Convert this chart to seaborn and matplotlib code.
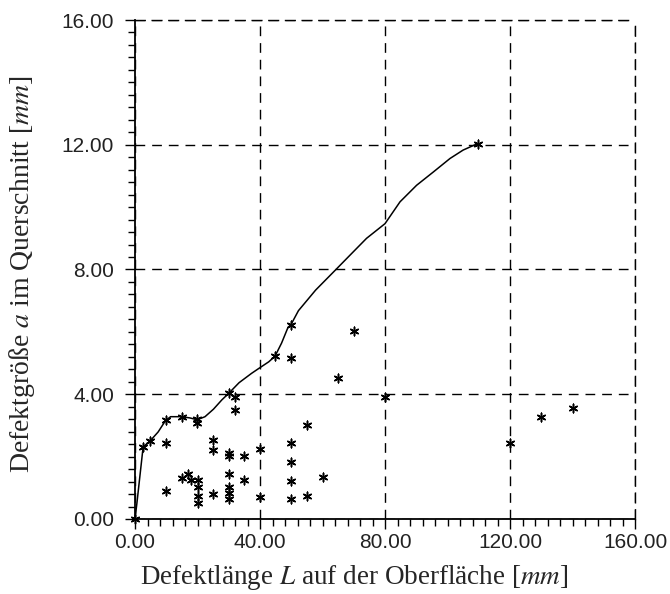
import matplotlib
matplotlib.use("Agg")
import matplotlib.pyplot as plt
import numpy as np
import pandas as pd
import seaborn as sns
from matplotlib.ticker import MultipleLocator, FormatStrFormatter

# envelope curve
curve_L = [0, 0.6, 2.6, 4.9, 7.4, 9.8, 11.4, 14.9, 17.6, 19.9, 22.4, 25.1, 27.8, 30.0,
           33.3, 37.3, 40.1, 42.8, 44.8, 46.9, 48.9, 50.0, 52.3, 57.8, 64.3, 68.8,
           74.1, 80.0, 84.8, 90.1, 95.5, 100.8, 105.0, 109.7]
curve_a = [0, 0.5, 2.31, 2.51, 2.79, 3.16, 3.28, 3.28, 3.24, 3.18, 3.28, 3.52, 3.82, 4.03,
           4.37, 4.67, 4.86, 5.04, 5.22, 5.64, 6.13, 6.25, 6.68, 7.34, 8.0, 8.46,
           9.0, 9.47, 10.17, 10.7, 11.13, 11.56, 11.83, 12.04]

# measured defects
defect_L = [0, 2.6, 4.9, 9.8, 14.9, 19.9, 19.9, 30.0, 44.8, 49.8, 109.7,
            10, 10, 15, 17, 18, 20, 20, 20, 20, 25, 25, 25,
            30, 30, 30, 30, 30, 30, 32, 32, 35, 35, 40, 40,
            50, 50, 50, 50, 50, 55, 55, 60, 65, 70, 80, 120, 130, 140]
defect_a = [0, 2.31, 2.51, 3.16, 3.28, 3.22, 3.09, 4.03, 5.22, 6.22, 12.04,
            2.43, 0.91, 1.32, 1.43, 1.25, 1.25, 1.01, 0.74, 0.5, 2.53, 2.21, 0.79,
            2.13, 2.02, 1.43, 1.04, 0.82, 0.63, 3.9, 3.49, 2.03, 1.25, 2.23, 0.72,
            5.15, 2.43, 1.82, 1.23, 0.63, 3.01, 0.74, 1.36, 4.53, 6.03, 3.92, 2.45, 3.26, 3.55]

x_ticks = [0, 40, 80, 120, 160]
y_ticks = [0, 4, 8, 12, 16]

sns.set_style("white")
plt.rcParams["font.family"] = ["Liberation Sans", "DejaVu Sans"]
plt.rcParams["mathtext.fontset"] = "stix"

curve = pd.DataFrame({"L": curve_L, "a": curve_a})
defects = pd.DataFrame({"L": defect_L, "a": defect_a})

fig = plt.figure(figsize=(6.7, 5.94), dpi=100)
ax = fig.add_axes([0.2015, 0.1263, 0.7463, 0.8400])

sns.lineplot(data=curve, x="L", y="a", sort=False, color="black", linewidth=1.1, ax=ax)
sns.scatterplot(data=defects, x="L", y="a", marker=(6, 2, 0), s=38, color="black",
                edgecolor="black", linewidth=1.1, ax=ax, zorder=3, clip_on=False)

ax.set_xlim(0, 160)
ax.set_ylim(0, 16)
ax.set_xticks(x_ticks)
ax.set_yticks(y_ticks)
ax.xaxis.set_minor_locator(MultipleLocator(4))
ax.yaxis.set_minor_locator(MultipleLocator(0.4))
ax.xaxis.set_major_formatter(FormatStrFormatter("%.2f"))
ax.yaxis.set_major_formatter(FormatStrFormatter("%.2f"))
ax.tick_params(which="major", direction="out", length=7, width=1, labelsize=15,
               color="black", labelcolor="#222222", bottom=True, left=True)
ax.tick_params(axis="x", which="major", pad=3)
ax.tick_params(axis="y", which="major", pad=8)
ax.tick_params(which="minor", direction="out", length=5, width=1, color="black",
               bottom=True, left=True)

dash = (0, (7, 5))
ax.grid(True, which="major", color="black", linestyle=dash, linewidth=1.0)
for side in ["left", "bottom"]:
    ax.spines[side].set_color("black")
    ax.spines[side].set_linewidth(1.3)
for side in ["top", "right"]:
    ax.spines[side].set_color("black")
    ax.spines[side].set_linewidth(1.0)
    ax.spines[side].set_linestyle(dash)

ax.set_xlabel(r"Defektlänge $L$ auf der Oberfläche [$mm$]", family="Liberation Serif",
              fontsize=19.5)
ax.set_ylabel(r"Defektgröße $a$ im Querschnitt [$mm$]", family="Liberation Serif",
              fontsize=20)
ax.xaxis.set_label_coords(0.438, -0.088)
ax.yaxis.set_label_coords(-0.196, 0.49)

fig.savefig("out.png", dpi=100)
